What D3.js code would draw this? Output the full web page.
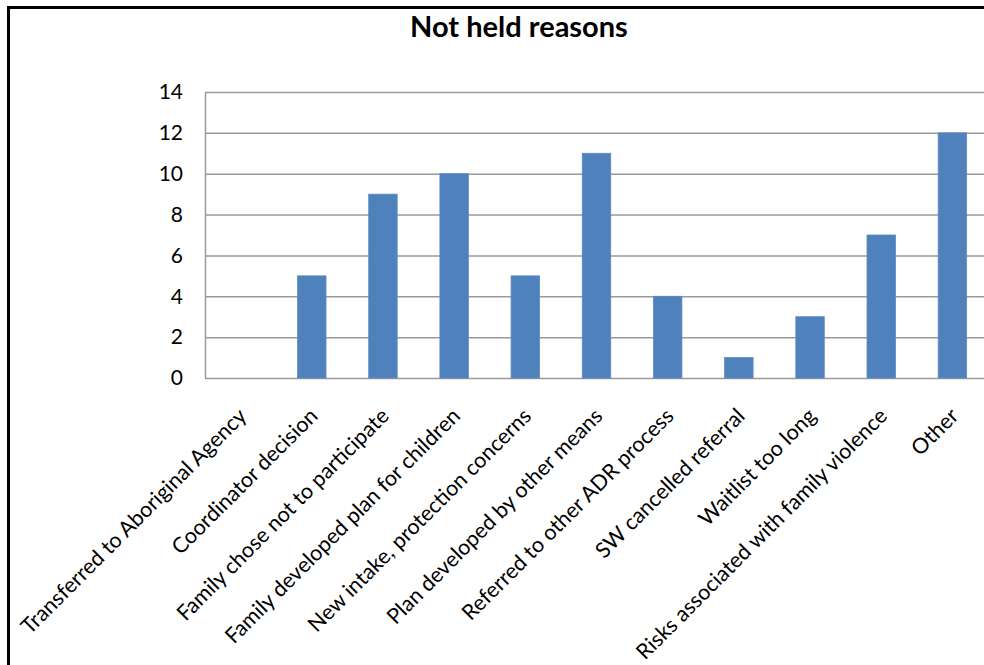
<!DOCTYPE html>
<html>
<head>
<meta charset="utf-8">
<script src="https://cdn.jsdelivr.net/npm/d3@7"></script>
<style>
  html, body { margin: 0; padding: 0; background: #fff; }
  svg { display: block; }
  text { font-family: Lato, "Open Sans", sans-serif; fill: #000; }
</style>
</head>
<body>
<svg id="chart" width="984" height="665"></svg>
<script>
// Reasons a session was not held, with counts
const categories = [
  "Transferred to Aboriginal Agency",
  "Coordinator decision",
  "Family chose not to participate",
  "Family developed plan for children",
  "New intake, protection concerns",
  "Plan developed by other means",
  "Referred to other ADR process",
  "SW cancelled referral",
  "Waitlist too long",
  "Risks associated with family violence",
  "Other"
];
const counts = [0, 5, 9, 10, 5, 11, 4, 1, 3, 7, 12];
const yTicks = [0, 2, 4, 6, 8, 10, 12, 14];
const title = "Not held reasons";

const svg = d3.select("#chart");
const plot = { left: 205, right: 988, top: 92, bottom: 378 };

// Outer chart frame
svg.append("rect")
  .attr("x", 8.5).attr("y", 7.5)
  .attr("width", 1000).attr("height", 700)
  .attr("fill", "#fff")
  .attr("stroke", "#000").attr("stroke-width", 3);

svg.append("text")
  .attr("x", 519).attr("y", 37)
  .attr("text-anchor", "middle")
  .attr("font-weight", "bold")
  .attr("font-size", 29)
  .text(title);

const x = d3.scaleBand()
  .domain(categories)
  .range([plot.left, plot.right])
  .paddingInner(0.6).paddingOuter(0.3);

const y = d3.scaleLinear()
  .domain([0, 14])
  .range([plot.bottom, plot.top]);

// Horizontal gridlines
svg.append("g")
  .selectAll("line")
  .data(yTicks)
  .join("line")
  .attr("x1", plot.left).attr("x2", plot.right)
  .attr("y1", d => y(d) + 0.5).attr("y2", d => y(d) + 0.5)
  .attr("stroke", "#9a9a9a").attr("stroke-width", 1.5);

// Y axis
const yAxis = svg.append("g")
  .attr("transform", `translate(${plot.left},0)`)
  .call(d3.axisLeft(y).tickValues(yTicks).tickSize(0).tickPadding(22));
yAxis.select(".domain").attr("stroke", "#9a9a9a").attr("stroke-width", 1.5);
yAxis.selectAll("text")
  .attr("font-size", 21)
  .style("font-family", "Lato, 'Open Sans', sans-serif");

// Bars
svg.append("g")
  .selectAll("rect")
  .data(categories.map((c, i) => ({ c, v: counts[i] })))
  .join("rect")
  .attr("x", d => x(d.c))
  .attr("width", x.bandwidth())
  .attr("y", d => y(d.v))
  .attr("height", d => y(0) - y(d.v))
  .attr("fill", "#4f81bd")
  .attr("stroke", "#5b8ac4").attr("stroke-width", 0.8);

// Rotated category labels
svg.append("g")
  .selectAll("text")
  .data(categories)
  .join("text")
  .attr("transform", d => `translate(${x(d) + x.bandwidth() / 2 + 2},${plot.bottom + 34}) rotate(-45)`)
  .attr("text-anchor", "end")
  .attr("dy", "0.35em")
  .attr("font-size", 21.5)
  .text(d => d);
</script>
</body>
</html>
